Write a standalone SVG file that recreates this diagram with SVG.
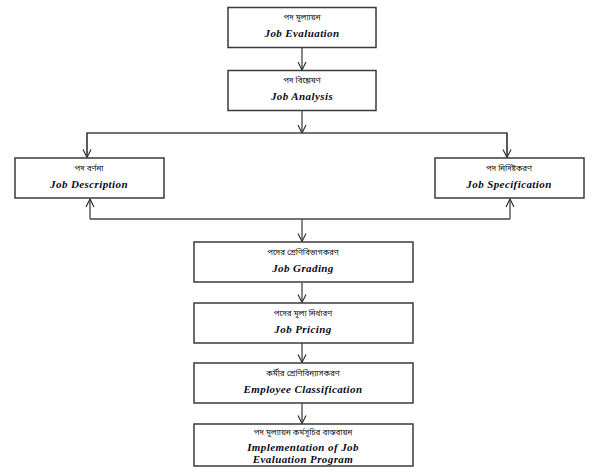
<svg xmlns="http://www.w3.org/2000/svg" width="598" height="472" viewBox="0 0 598 472">
<defs>
<marker id="arr" viewBox="0 0 10 10" refX="9" refY="5" markerWidth="10" markerHeight="10" markerUnits="userSpaceOnUse" orient="auto">
<path d="M1,1 L9,5 L1,9" fill="none" stroke="#333" stroke-width="1.2"/>
</marker>
<style>
.box{fill:#fff;stroke:#3a3a3a;stroke-width:1.5}
.bn{font-family:"Noto Sans","Noto Sans Bengali","Liberation Sans",sans-serif;font-size:8px;fill:#111;text-anchor:middle}
.en{font-family:"Liberation Serif",serif;font-size:11px;font-weight:bold;font-style:italic;letter-spacing:0.4px;fill:#0a0a20;text-anchor:middle}
.ln{fill:none;stroke:#444;stroke-width:1.3}
</style>
</defs>
<rect width="598" height="472" fill="#fff"/>
<g id="connectors">
<path class="ln" d="M302,47.5 V70" marker-end="url(#arr)"/>
<path class="ln" d="M302,110.5 V133" marker-end="url(#arr)"/>
<path class="ln" d="M87,156 V133 H507 V156"/>
<path class="ln" d="M87,133 V157.5" marker-end="url(#arr)"/>
<path class="ln" d="M507,133 V157.5" marker-end="url(#arr)"/>
<path class="ln" d="M90,219 H510"/>
<path class="ln" d="M90,219 V199" marker-end="url(#arr)"/>
<path class="ln" d="M510,219 V199" marker-end="url(#arr)"/>
<path class="ln" d="M302,219 V241.5" marker-end="url(#arr)"/>
<path class="ln" d="M302,283 V302.5" marker-end="url(#arr)"/>
<path class="ln" d="M302,343 V362.5" marker-end="url(#arr)"/>
<path class="ln" d="M302,403 V423.5" marker-end="url(#arr)"/>
</g>
<g id="job-evaluation">
<rect class="box" x="228" y="7.5" width="148" height="40"/>
<text class="bn" x="302" y="20">পদ মূল্যায়ন</text>
<text class="en" x="302" y="37">Job Evaluation</text>
</g>
<g id="job-analysis">
<rect class="box" x="228" y="70.5" width="148" height="40"/>
<text class="bn" x="302" y="83">পদ বিশ্লেষণ</text>
<text class="en" x="302" y="100">Job Analysis</text>
</g>
<g id="job-description">
<rect class="box" x="15" y="158" width="149" height="40"/>
<text class="bn" x="89" y="170.5">পদ বর্ণনা</text>
<text class="en" x="89" y="187.5">Job Description</text>
</g>
<g id="job-specification">
<rect class="box" x="435" y="158" width="149" height="40"/>
<text class="bn" x="509" y="170.5">পদ নির্দিষ্টকরণ</text>
<text class="en" x="509" y="187.5">Job Specification</text>
</g>
<g id="job-grading">
<rect class="box" x="194" y="242" width="219" height="40"/>
<text class="bn" x="303" y="254.5">পদের শ্রেণিবিভাগকরণ</text>
<text class="en" x="303" y="271.5">Job Grading</text>
</g>
<g id="job-pricing">
<rect class="box" x="194" y="303" width="219" height="40"/>
<text class="bn" x="303" y="315.5">পদের মূল্য নির্ধারণ</text>
<text class="en" x="303" y="332.5">Job Pricing</text>
</g>
<g id="employee-classification">
<rect class="box" x="194" y="363" width="219" height="40"/>
<text class="bn" x="303" y="375.5">কর্মীর শ্রেণিবিন্যাসকরণ</text>
<text class="en" x="303" y="392.5">Employee Classification</text>
</g>
<g id="implementation">
<rect class="box" x="194" y="424" width="219" height="42"/>
<text class="bn" x="303" y="435">পদ মূল্যায়ন কর্মসূচির বাস্তবায়ন</text>
<text class="en" x="303" y="451">Implementation of Job</text>
<text class="en" x="303" y="462.5">Evaluation Program</text>
</g>
</svg>
